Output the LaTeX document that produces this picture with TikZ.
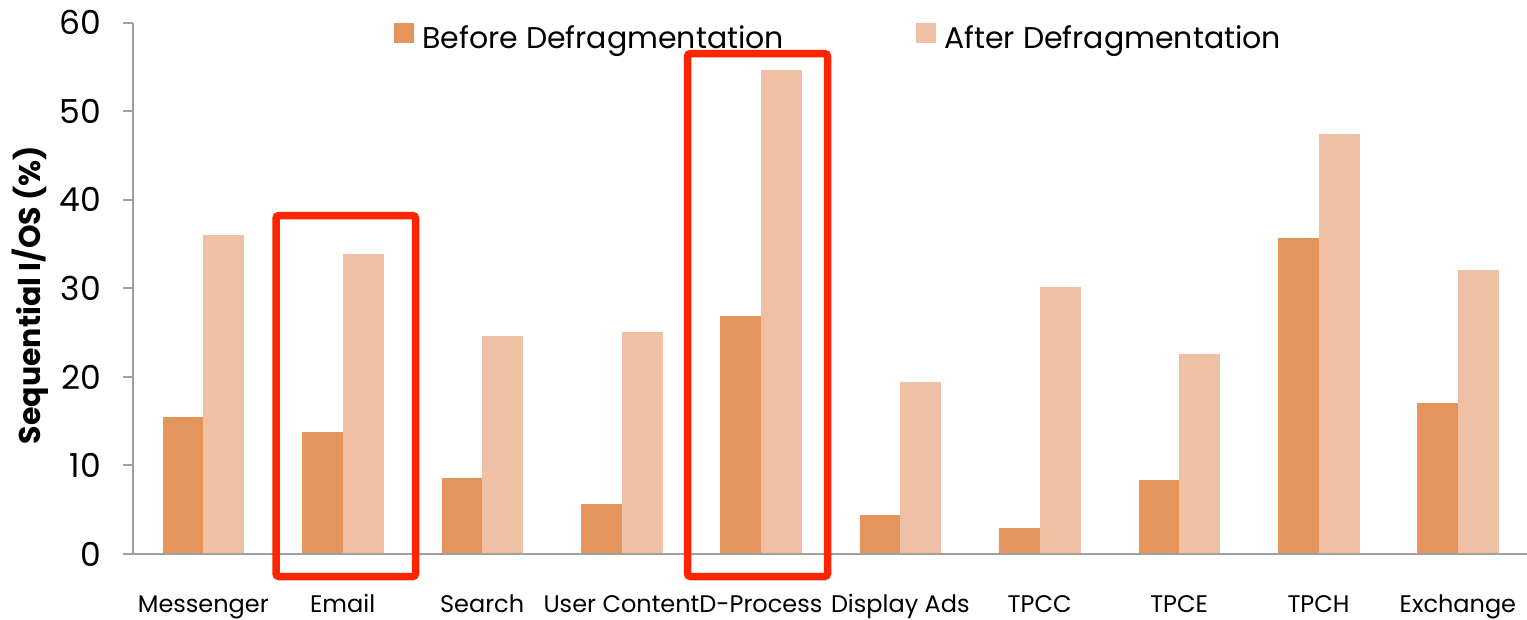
\documentclass[tikz,border=0pt]{standalone}
\usepackage{fontspec}
\setmainfont{Poppins}
\definecolor{barA}{HTML}{E4955B}
\definecolor{barB}{HTML}{EFC0A3}
\definecolor{axisgray}{HTML}{A0A0A0}
\definecolor{focusred}{HTML}{FF2400}
\begin{document}
\begin{tikzpicture}[x=1pt,y=-1pt,
  before/.style={fill=barA},
  after/.style={fill=barB},
  axisline/.style={draw=axisgray,line width=2pt},
  focus/.style={draw=focusred,line width=7.5pt,rounded corners=3pt},
  ticklab/.style={anchor=east,inner sep=0pt,font=\fontsize{33}{36}\selectfont},
  xlab/.style={anchor=base,inner sep=0pt,font=\fontsize{24}{28}\selectfont},
  legtext/.style={anchor=base west,inner sep=0pt,font=\fontsize{30}{33}\selectfont},
  ylab/.style={rotate=90,inner sep=0pt,font=\fontsize{30}{34}\selectfont\bfseries}]
\useasboundingbox (0,0) rectangle (1527,619);

% value axis: 0 at y=554, 8.855 units per percent
\foreach \v in {0,10,...,60}{
  \draw[axisline] (123,{554-8.855*\v}) -- (133.3,{554-8.855*\v});
  \node[ticklab] (tick\v) at (101,{554-8.855*\v}) {\v};
}

% bars, one pair per workload
\foreach \i/\lab/\a/\b in {0/Messenger/15.5/36.0, 1/Email/13.8/33.9, 2/Search/8.6/24.6,
    3/User Content/5.6/25.1, 4/D-Process/26.9/54.7, 5/Display Ads/4.4/19.4,
    6/TPCC/2.9/30.1, 7/TPCE/8.4/22.6, 8/TPCH/35.7/47.4, 9/Exchange/17.0/32.1}{
  \pgfmathsetmacro\c{203.3+139.4*\i}
  \fill[before] ({\c-40.5},554) rectangle (\c,{554-8.855*\a});
  \fill[after] (\c,554) rectangle ({\c+41},{554-8.855*\b});
  \node[xlab] (cat\i) at (\c,612) {\lab};
}

\draw[axisline] (133.3,22.7) -- (133.3,554) -- (1527,554);

% highlighted workloads
\draw[focus] (276,215.5) rectangle (415.5,576.5);
\draw[focus] (687.5,53.5) rectangle (827.5,576.5);

% legend
\fill[before] (394,23) rectangle (414,43);
\node[legtext] (legA) at (422,48) {Before Defragmentation};
\fill[after] (916,23) rectangle (936,43);
\node[legtext] (legB) at (944,48) {After Defragmentation};

\node[ylab] (ytitle) at (30,295) {Sequential I/OS (\%)};
\end{tikzpicture}
\end{document}
